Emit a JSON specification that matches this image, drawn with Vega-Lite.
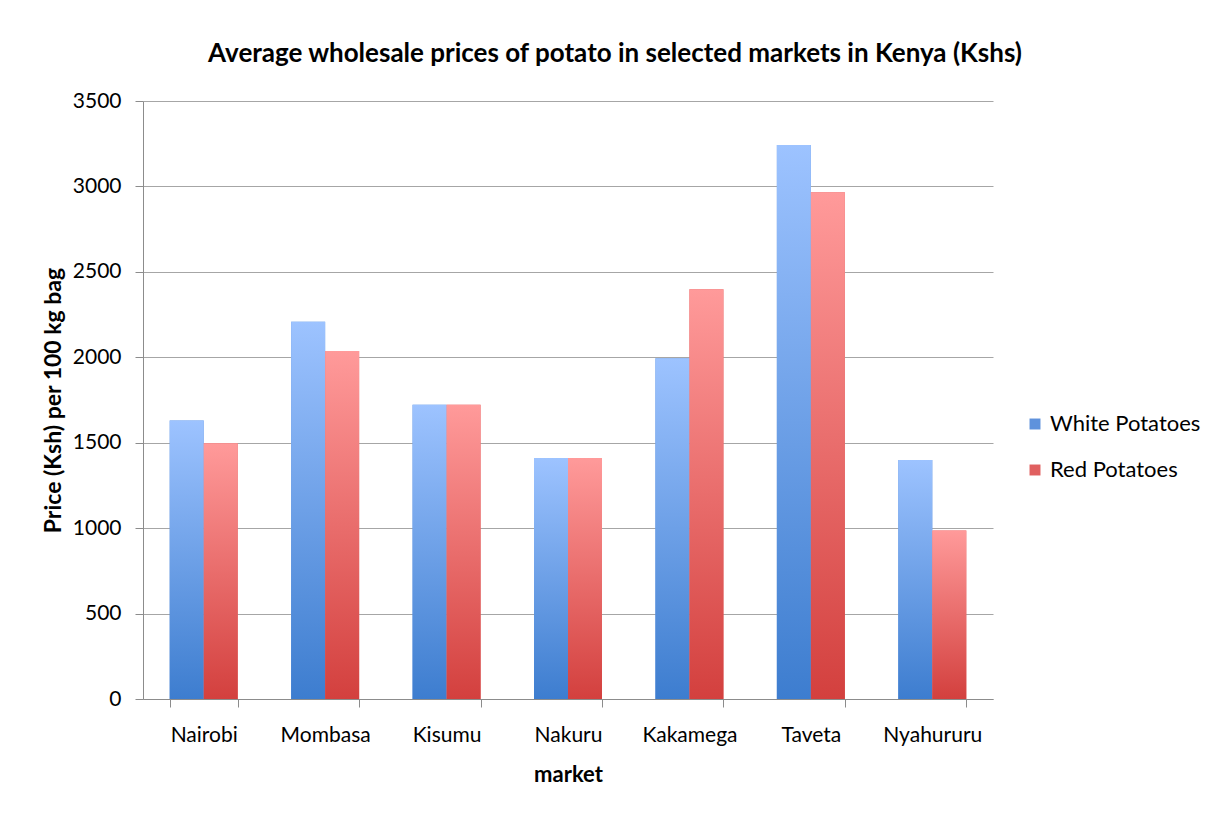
{
  "$schema": "https://vega.github.io/schema/vega-lite/v6.json",
  "width": 850,
  "height": 598,
  "autosize": {"type": "none"},
  "padding": {"left": 143, "top": 101, "right": 225, "bottom": 114},
  "background": "white",
  "config": {"font": "Lato", "view": {"stroke": null}},
  "title": {
    "text": "Average  wholesale prices  of potato  in selected markets in Kenya (Kshs)",
    "font": "Lato",
    "fontSize": 26,
    "fontWeight": "bold",
    "color": "#000000",
    "anchor": "middle",
    "dx": 47,
    "offset": 23
  },
  "data": {
    "values": [
      {"market": "Nairobi", "series": "White Potatoes", "price": 1630},
      {"market": "Nairobi", "series": "Red Potatoes", "price": 1497},
      {"market": "Mombasa", "series": "White Potatoes", "price": 2208},
      {"market": "Mombasa", "series": "Red Potatoes", "price": 2037},
      {"market": "Kisumu", "series": "White Potatoes", "price": 1722},
      {"market": "Kisumu", "series": "Red Potatoes", "price": 1722},
      {"market": "Nakuru", "series": "White Potatoes", "price": 1410},
      {"market": "Nakuru", "series": "Red Potatoes", "price": 1410},
      {"market": "Kakamega", "series": "White Potatoes", "price": 1995},
      {"market": "Kakamega", "series": "Red Potatoes", "price": 2398},
      {"market": "Taveta", "series": "White Potatoes", "price": 3242},
      {"market": "Taveta", "series": "Red Potatoes", "price": 2966},
      {"market": "Nyahururu", "series": "White Potatoes", "price": 1399},
      {"market": "Nyahururu", "series": "Red Potatoes", "price": 986}
    ]
  },
  "encoding": {
    "x": {
      "field": "market",
      "type": "nominal",
      "sort": ["Nairobi", "Mombasa", "Kisumu", "Nakuru", "Kakamega", "Taveta", "Nyahururu"],
      "scale": {"paddingInner": 0.44, "paddingOuter": 0.22},
      "title": "market",
      "axis": {
        "labelAngle": 0,
        "labelFontSize": 21,
        "labelColor": "#000000",
        "labelPadding": 17,
        "tickBand": "extent",
        "tickSize": 8,
        "tickColor": "#8c8c8c",
        "domainColor": "#8c8c8c",
        "titleFontSize": 22,
        "titleFontWeight": "bold",
        "titleColor": "#000000",
        "titlePadding": 19
      }
    },
    "xOffset": {
      "field": "series",
      "type": "nominal",
      "scale": {"domain": ["White Potatoes", "Red Potatoes"]}
    },
    "y": {
      "field": "price",
      "type": "quantitative",
      "scale": {"domain": [0, 3500]},
      "title": "Price (Ksh) per 100 kg bag",
      "axis": {
        "values": [0, 500, 1000, 1500, 2000, 2500, 3000, 3500],
        "format": "d",
        "labelFontSize": 21,
        "labelColor": "#000000",
        "labelPadding": 14,
        "tickSize": 8,
        "tickColor": "#8c8c8c",
        "domainColor": "#8c8c8c",
        "gridColor": "#a6a6a6",
        "grid": true,
        "titleFontSize": 23,
        "titleFontWeight": "bold",
        "titleColor": "#000000",
        "titlePadding": 7
      }
    }
  },
  "layer": [
    {
      "mark": {"type": "bar"},
      "encoding": {
        "color": {
          "field": "series",
          "type": "nominal",
          "scale": {"domain": ["White Potatoes", "Red Potatoes"], "range": ["#5f92dc", "#e06060"]},
          "legend": {
            "orient": "none",
            "legendX": 881,
            "legendY": 312,
            "title": null,
            "symbolType": "square",
            "symbolSize": 120,
            "labelFontSize": 22,
            "labelColor": "#000000",
            "labelOffset": 4,
            "rowPadding": 24
          }
        }
      }
    },
    {
      "transform": [{"filter": "datum.series === 'White Potatoes'"}],
      "mark": {
        "type": "bar",
        "color": {
          "gradient": "linear",
          "x1": 0, "y1": 0, "x2": 0, "y2": 1,
          "stops": [
            {"offset": 0, "color": "#9dc3ff"},
            {"offset": 1, "color": "#3d7dcf"}
          ]
        }
      }
    },
    {
      "transform": [{"filter": "datum.series === 'Red Potatoes'"}],
      "mark": {
        "type": "bar",
        "color": {
          "gradient": "linear",
          "x1": 0, "y1": 0, "x2": 0, "y2": 1,
          "stops": [
            {"offset": 0, "color": "#ff9a9a"},
            {"offset": 1, "color": "#d3403e"}
          ]
        }
      }
    }
  ]
}
